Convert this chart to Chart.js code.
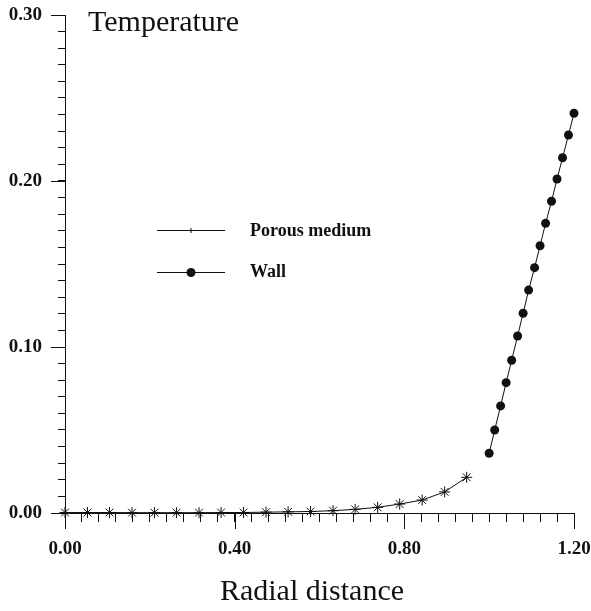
<!DOCTYPE html>
<html>
<head>
<meta charset="utf-8">
<script src="https://cdn.jsdelivr.net/npm/chart.js@4"></script>
<style>
  html, body { margin: 0; padding: 0; background: #fff; }
  #wrap { width: 591px; height: 611px; }
</style>
</head>
<body>
<div id="wrap"><canvas id="chart" width="591" height="611"></canvas></div>
<script>
// radial positions and temperatures
const porousR = [0, 0.053, 0.105, 0.158, 0.211, 0.263, 0.316, 0.368, 0.421, 0.474,
                 0.526, 0.579, 0.632, 0.684, 0.737, 0.789, 0.842, 0.895, 0.947];
const porousT = [0.0003, 0.0003, 0.0003, 0.0002, 0.0002, 0.0002, 0.0002, 0.0003, 0.0003, 0.0005,
                 0.0007, 0.0009, 0.0014, 0.0022, 0.0034, 0.0054, 0.0078, 0.0127, 0.0215];

const wallR = [1.000, 1.013, 1.027, 1.040, 1.053, 1.067, 1.080, 1.093,
               1.107, 1.120, 1.133, 1.147, 1.160, 1.173, 1.187, 1.200];
const wallT = [0.036, 0.050, 0.0645, 0.0785, 0.092, 0.1066, 0.1203, 0.1343,
               0.1478, 0.161, 0.1745, 0.1878, 0.2012, 0.214, 0.2277, 0.2408];

const xMajor = [0, 0.4, 0.8, 1.2];
const yMajor = [0, 0.1, 0.2, 0.3];

const ink = '#111';
const serif = "'Liberation Serif', 'DejaVu Serif', serif";

const toPoints = (xs, ys) => xs.map((x, i) => ({ x: x, y: ys[i] }));

const decorations = {
    id: 'decorations',
    afterDraw(chart) {
        const ctx = chart.ctx;
        const xs = chart.scales.x;
        const ys = chart.scales.y;
        const area = chart.chartArea;
        ctx.save();
        ctx.strokeStyle = ink;
        ctx.lineWidth = 1;

        // longer major ticks
        xMajor.forEach(v => {
            const px = Math.round(xs.getPixelForValue(v)) + 0.5;
            ctx.beginPath();
            ctx.moveTo(px, area.bottom);
            ctx.lineTo(px, area.bottom + 16);
            ctx.stroke();
        });
        yMajor.forEach(v => {
            const py = Math.round(ys.getPixelForValue(v)) + 0.5;
            ctx.beginPath();
            ctx.moveTo(area.left, py);
            ctx.lineTo(area.left - 14, py);
            ctx.stroke();
        });

        // title and axis name
        ctx.fillStyle = ink;
        ctx.textBaseline = 'alphabetic';
        ctx.textAlign = 'left';
        ctx.font = '30px ' + serif;
        ctx.fillText('Temperature', 88, 31);
        ctx.textAlign = 'center';
        ctx.font = '30px ' + serif;
        ctx.fillText('Radial distance', 312, 600);

        // legend
        const lx0 = 157, lx1 = 225, lxm = 191;
        ctx.beginPath();
        ctx.moveTo(lx0, 230.5); ctx.lineTo(lx1, 230.5);
        ctx.moveTo(lxm, 228); ctx.lineTo(lxm, 233);
        ctx.moveTo(lx0, 272.5); ctx.lineTo(lx1, 272.5);
        ctx.stroke();
        ctx.beginPath();
        ctx.arc(lxm, 272.5, 4.5, 0, Math.PI * 2);
        ctx.fill();
        ctx.textAlign = 'left';
        ctx.textBaseline = 'middle';
        ctx.font = 'bold 18px ' + serif;
        ctx.fillText('Porous medium', 250, 231);
        ctx.fillText('Wall', 250, 272);
        ctx.restore();
    }
};

new Chart(document.getElementById('chart'), {
    type: 'line',
    data: {
        datasets: [{
            label: 'Porous medium',
            data: toPoints(porousR, porousT),
            borderColor: ink,
            borderWidth: 1,
            pointStyle: 'star',
            pointRadius: 5.5,
            pointBorderColor: ink,
            pointBorderWidth: 1,
            fill: false,
            tension: 0,
            clip: false
        }, {
            label: 'Wall',
            data: toPoints(wallR, wallT),
            borderColor: ink,
            borderWidth: 1,
            pointStyle: 'circle',
            pointRadius: 4.5,
            pointBackgroundColor: ink,
            pointBorderColor: ink,
            pointBorderWidth: 0,
            fill: false,
            tension: 0,
            clip: false
        }]
    },
    options: {
        responsive: false,
        animation: false,
        layout: { padding: { top: 15, right: 17, left: 0, bottom: 0 } },
        plugins: {
            legend: { display: false },
            tooltip: { enabled: false }
        },
        scales: {
            x: {
                type: 'linear',
                min: 0,
                max: 1.2,
                afterFit: (s) => {
                    s.height = 98;
                    s.paddingLeft = 0;
                    s.paddingRight = 0;
                },
                border: { color: ink, width: 1 },
                grid: { drawOnChartArea: false, color: ink, tickLength: 9 },
                ticks: {
                    stepSize: 0.04,
                    autoSkip: false,
                    maxRotation: 0,
                    padding: 16,
                    color: ink,
                    font: { family: serif, size: 19, weight: 'bold' },
                    callback: (v) => (Math.round(v * 100) % 40 === 0 ? v.toFixed(2) : '')
                }
            },
            y: {
                type: 'linear',
                min: 0,
                max: 0.3,
                afterFit: (s) => {
                    s.width = 65;
                    s.paddingTop = 0;
                    s.paddingBottom = 0;
                },
                border: { color: ink, width: 1 },
                grid: { drawOnChartArea: false, color: ink, tickLength: 7 },
                ticks: {
                    stepSize: 0.01,
                    autoSkip: false,
                    padding: 16,
                    color: ink,
                    font: { family: serif, size: 19, weight: 'bold' },
                    callback: (v) => (Math.round(v * 100) % 10 === 0 ? v.toFixed(2) : '')
                }
            }
        }
    },
    plugins: [decorations]
});
</script>
</body>
</html>
